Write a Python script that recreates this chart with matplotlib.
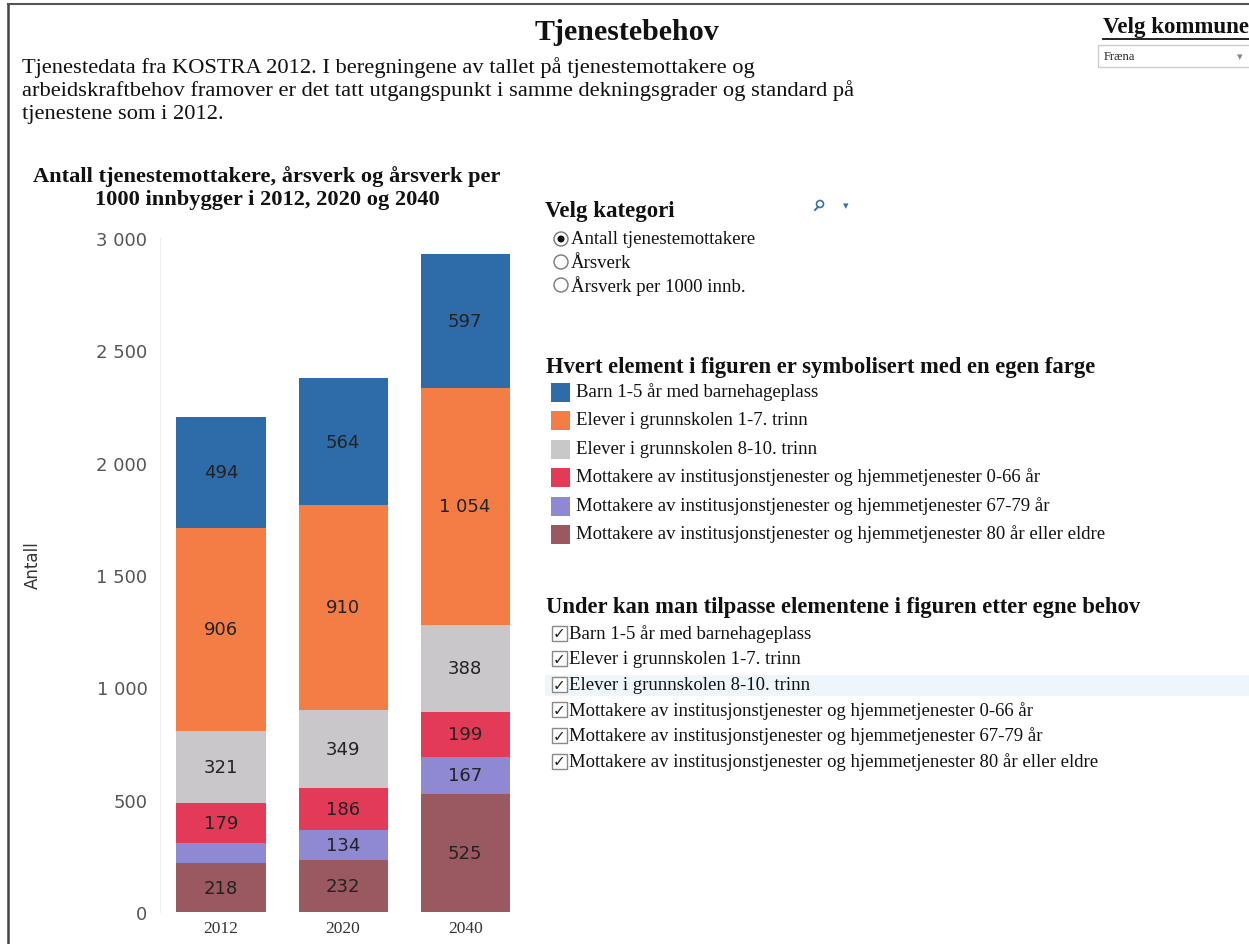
import matplotlib
matplotlib.use("Agg")
import matplotlib.pyplot as plt
from matplotlib.patches import Rectangle, Circle
import numpy as np

# data
years = ["2012", "2020", "2040"]
series = [
    "Mottakere av institusjonstjenester og hjemmetjenester 80 år eller eldre",
    "Mottakere av institusjonstjenester og hjemmetjenester 67-79 år",
    "Mottakere av institusjonstjenester og hjemmetjenester 0-66 år",
    "Elever i grunnskolen 8-10. trinn",
    "Elever i grunnskolen 1-7. trinn",
    "Barn 1-5 år med barnehageplass",
]
mottakere_80 = [218, 232, 525]
mottakere_67_79 = [87, 134, 167]
mottakere_0_66 = [179, 186, 199]
elever_8_10 = [321, 349, 388]
elever_1_7 = [906, 910, 1054]
barnehage = [494, 564, 597]
values = [mottakere_80, mottakere_67_79, mottakere_0_66, elever_8_10, elever_1_7, barnehage]
colors = ["#9a5860", "#8f88d2", "#e33a57", "#c9c7c9", "#f47d45", "#2d6ba9"]
yticks = [0, 500, 1000, 1500, 2000, 2500, 3000]
legend_order = [5, 4, 3, 2, 1, 0]
kategorier = ["Antall tjenestemottakere", "Årsverk", "Årsverk per 1000 innb."]
min_label = 100  # segments smaller than this have no value label

W, H = 1249, 945
fig = plt.figure(figsize=(W / 100, H / 100), dpi=100)
fig.patch.set_facecolor("white")

serif = "Liberation Serif"


def fmt(v):
    return f"{v:,}".replace(",", " ")


# overlay in pixel coordinates for the page elements
ui = fig.add_axes([0, 0, 1, 1])
ui.set_xlim(0, W)
ui.set_ylim(H, 0)
ui.axis("off")

# page frame
ui.plot([8, 8], [5, H], color="#444444", lw=1.8)
ui.plot([8, W], [5, 5], color="#555555", lw=1.5)

ui.text(627, 33, "Tjenestebehov", family=serif, fontsize=21.6, fontweight="bold",
        ha="center", va="center", color="#111111")
desc = ["Tjenestedata fra KOSTRA 2012. I beregningene av tallet på tjenestemottakere og",
        "arbeidskraftbehov framover er det tatt utgangspunkt i samme dekningsgrader og standard på",
        "tjenestene som i 2012."]
for i, line in enumerate(desc):
    ui.text(22, 68 + i * 23, line, family=serif, fontsize=16.2, ha="left", va="center",
            color="#111111")

# kommune selector
ui.text(1103, 28, "Velg kommune", family=serif, fontsize=16.5, fontweight="bold",
        ha="left", va="center", color="#111111")
ui.plot([1103, 1249], [40, 40], color="#111111", lw=1.3)
ui.add_patch(Rectangle((1098, 46), 160, 22, facecolor="white", edgecolor="#cccccc", lw=1))
ui.text(1104, 57, "Fræna", family=serif, fontsize=9, ha="left", va="center", color="#222222")
ui.text(1240, 57, "▾", fontsize=8, ha="center", va="center", color="#888888")

# chart title
ui.text(267, 177, "Antall tjenestemottakere, årsverk og årsverk per", family=serif,
        fontsize=16.1, fontweight="bold", ha="center", va="center", color="#111111")
ui.text(267, 200, "1000 innbygger i 2012, 2020 og 2040", family=serif,
        fontsize=16.1, fontweight="bold", ha="center", va="center", color="#111111")

# category selector
ui.text(545, 212, "Velg kategori", family=serif, fontsize=16.5, fontweight="bold",
        ha="left", va="center", color="#111111")
ui.add_patch(Circle((820, 205), 3.5, facecolor="none", edgecolor="#3a6fb0", lw=1.2))
ui.plot([815, 818], [211, 208], color="#3a6fb0", lw=1.4)
ui.text(846, 206, "▾", fontsize=8, ha="center", va="center", color="#3a6fb0")
for i, k in enumerate(kategorier):
    y = 240 + i * 23
    ui.add_patch(Circle((561, y), 7, facecolor="white", edgecolor="#777777", lw=1))
    if i == 0:
        ui.add_patch(Circle((561, y), 3.5, facecolor="#111111", edgecolor="none"))
    ui.text(571, y, k, family=serif, fontsize=13.5, ha="left", va="center", color="#111111")

# colour legend
ui.text(546, 367, "Hvert element i figuren er symbolisert med en egen farge", family=serif,
        fontsize=16.3, fontweight="bold", ha="left", va="center", color="#111111")
for i, idx in enumerate(legend_order):
    y = 393 + i * 28.5
    ui.add_patch(Rectangle((551, y - 9.5), 19, 19, facecolor=colors[idx], edgecolor="none"))
    ui.text(576, y - 1, series[idx], family=serif, fontsize=13.5, ha="left", va="center",
            color="#111111")

# checkbox list
ui.text(546, 608, "Under kan man tilpasse elementene i figuren etter egne behov", family=serif,
        fontsize=16.3, fontweight="bold", ha="left", va="center", color="#111111")
ui.add_patch(Rectangle((545, 676), W - 545, 21, facecolor="#eef6fb", edgecolor="none"))
for i, idx in enumerate(legend_order):
    y = 634 + i * 25.6
    ui.add_patch(Rectangle((552, y - 7.5), 15, 15, facecolor="white", edgecolor="#888888", lw=1))
    ui.text(559.5, y, "✓", fontsize=11, fontweight="bold", ha="center", va="center",
            color="#222222")
    ui.text(569, y, series[idx], family=serif, fontsize=13.5, ha="left", va="center",
            color="#111111")

# main chart
left_px, right_px, top_px, bottom_px = 160, 525, 239, 913
ax = fig.add_axes([left_px / W, 1 - bottom_px / H, (right_px - left_px) / W,
                   (bottom_px - top_px) / H])
ax.patch.set_alpha(0)
x = np.arange(len(years))
bottom = np.zeros(len(years))
for vals, c in zip(values, colors):
    vals = np.array(vals)
    ax.bar(x, vals, bottom=bottom, width=0.73, color=c, edgecolor="none")
    for xi, b, v in zip(x, bottom, vals):
        if v >= min_label:
            ax.text(xi, b + v / 2, fmt(int(v)), ha="center", va="center", fontsize=13,
                    color="#222222")
    bottom = bottom + vals

ax.set_xlim(-0.5, 2.49)
ax.set_ylim(0, 3000)
ax.set_yticks(yticks)
ax.set_yticklabels([fmt(t) for t in yticks], fontsize=13, color="#555555")
ax.set_xticks(x)
ax.set_xticklabels(years, family=serif, fontsize=12.5, color="#333333")
ax.tick_params(axis="both", length=0)
ax.tick_params(axis="y", pad=9)
ax.tick_params(axis="x", pad=6)
for s in ["top", "right", "bottom"]:
    ax.spines[s].set_visible(False)
ax.spines["left"].set_color("#eeeeee")
ax.set_ylabel("Antall", fontsize=12, color="#333333")
ax.yaxis.set_label_coords(-0.325, 0.516)

fig.savefig("out.png", dpi=100)
